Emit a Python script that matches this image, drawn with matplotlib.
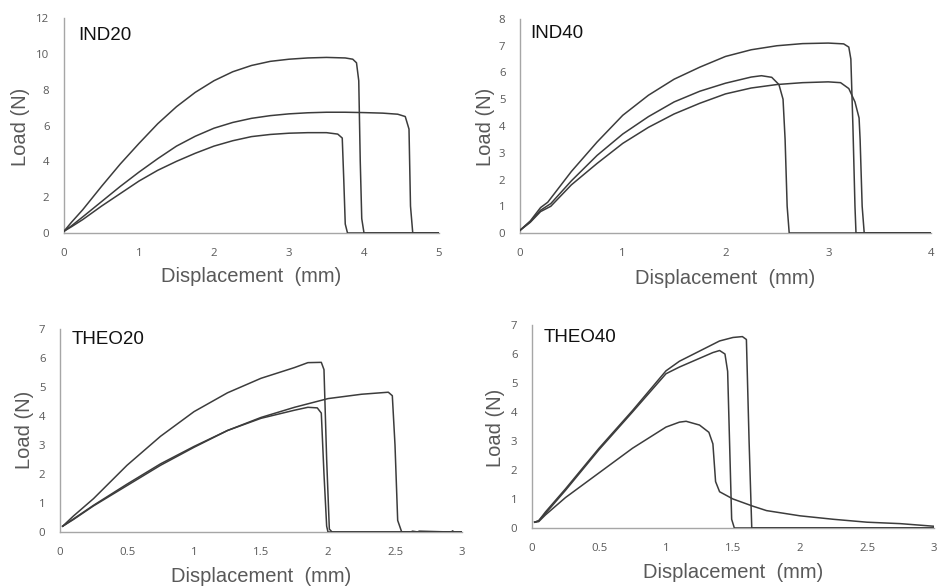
import matplotlib
matplotlib.use("Agg")
import matplotlib.pyplot as plt

# ---------------- data ----------------
# IND20
ind20_a_x = [0.0, 0.1, 0.25, 0.5, 0.75, 1.0, 1.25, 1.5, 1.75, 2.0, 2.25, 2.5, 2.75, 3.0, 3.25, 3.5, 3.75, 3.85, 3.9, 3.93, 3.95, 3.97, 4.0, 5.0]
ind20_a_y = [0.1, 0.6, 1.3, 2.6, 3.85, 5.0, 6.1, 7.05, 7.85, 8.5, 9.0, 9.35, 9.58, 9.7, 9.77, 9.8, 9.77, 9.7, 9.5, 8.5, 4.0, 0.8, 0.0, 0.0]
ind20_b_x = [0.0, 0.1, 0.25, 0.5, 0.75, 1.0, 1.25, 1.5, 1.75, 2.0, 2.25, 2.5, 2.75, 3.0, 3.25, 3.5, 3.75, 4.0, 4.25, 4.45, 4.55, 4.6, 4.62, 4.65, 5.0]
ind20_b_y = [0.1, 0.4, 0.9, 1.75, 2.6, 3.4, 4.15, 4.85, 5.4, 5.85, 6.17, 6.4, 6.55, 6.65, 6.71, 6.74, 6.74, 6.72, 6.69, 6.63, 6.5, 5.8, 1.5, 0.0, 0.0]
ind20_c_x = [0.0, 0.1, 0.25, 0.5, 0.75, 1.0, 1.25, 1.5, 1.75, 2.0, 2.25, 2.5, 2.75, 3.0, 3.25, 3.5, 3.65, 3.71, 3.73, 3.75, 3.78, 5.0]
ind20_c_y = [0.1, 0.35, 0.75, 1.5, 2.2, 2.9, 3.5, 4.0, 4.45, 4.85, 5.15, 5.38, 5.5, 5.57, 5.6, 5.6, 5.52, 5.3, 3.0, 0.5, 0.0, 0.0]

# IND40
ind40_a_x = [0.0, 0.1, 0.2, 0.27, 0.3, 0.5, 0.75, 1.0, 1.25, 1.5, 1.75, 2.0, 2.25, 2.5, 2.75, 3.0, 3.15, 3.2, 3.22, 3.24, 3.26, 3.27, 4.0]
ind40_a_y = [0.1, 0.45, 0.95, 1.15, 1.3, 2.3, 3.4, 4.4, 5.15, 5.75, 6.2, 6.6, 6.85, 7.0, 7.08, 7.1, 7.07, 6.95, 6.5, 4.0, 1.0, 0.0, 0.0]
ind40_b_x = [0.0, 0.1, 0.2, 0.3, 0.5, 0.75, 1.0, 1.25, 1.5, 1.75, 2.0, 2.25, 2.35, 2.45, 2.52, 2.56, 2.58, 2.6, 2.62, 4.0]
ind40_b_y = [0.1, 0.42, 0.85, 1.1, 1.95, 2.9, 3.7, 4.35, 4.9, 5.3, 5.6, 5.83, 5.88, 5.82, 5.55, 5.0, 3.5, 1.0, 0.0, 0.0]
ind40_c_x = [0.0, 0.1, 0.2, 0.3, 0.5, 0.75, 1.0, 1.25, 1.5, 1.75, 2.0, 2.25, 2.5, 2.75, 3.0, 3.12, 3.2, 3.26, 3.3, 3.31, 3.33, 3.35, 4.0]
ind40_c_y = [0.1, 0.4, 0.8, 1.0, 1.8, 2.6, 3.35, 3.95, 4.45, 4.85, 5.2, 5.42, 5.55, 5.62, 5.65, 5.62, 5.4, 4.9, 4.3, 3.5, 1.0, 0.0, 0.0]

# THEO20
theo20_a_x = [0.02, 0.1, 0.25, 0.5, 0.75, 1.0, 1.25, 1.5, 1.75, 1.85, 1.95, 1.97, 1.99, 2.01, 2.03, 3.0]
theo20_a_y = [0.2, 0.55, 1.15, 2.3, 3.3, 4.15, 4.8, 5.3, 5.67, 5.84, 5.85, 5.6, 2.5, 0.1, 0.0, 0.0]
theo20_b_x = [0.02, 0.1, 0.25, 0.5, 0.75, 1.0, 1.25, 1.5, 1.75, 2.0, 2.25, 2.45, 2.48, 2.5, 2.52, 2.55, 2.62, 2.63, 2.67, 2.68, 2.92, 2.93, 2.94, 3.0]
theo20_b_y = [0.2, 0.45, 0.92, 1.65, 2.35, 2.95, 3.5, 3.95, 4.3, 4.6, 4.75, 4.82, 4.7, 3.0, 0.4, 0.0, 0.0, 0.03, 0.0, 0.03, 0.0, 0.04, 0.0, 0.0]
theo20_c_x = [0.02, 0.1, 0.25, 0.5, 0.75, 1.0, 1.25, 1.5, 1.75, 1.85, 1.92, 1.95, 1.97, 1.99, 2.0, 3.0]
theo20_c_y = [0.2, 0.43, 0.9, 1.6, 2.3, 2.92, 3.5, 3.92, 4.2, 4.3, 4.28, 4.1, 2.0, 0.2, 0.0, 0.0]

# THEO40
theo40_a_x = [0.02, 0.05, 0.1, 0.25, 0.5, 0.75, 1.0, 1.1, 1.25, 1.4, 1.5, 1.57, 1.6, 1.62, 1.64, 3.0]
theo40_a_y = [0.2, 0.25, 0.55, 1.35, 2.75, 4.05, 5.42, 5.75, 6.1, 6.45, 6.57, 6.6, 6.5, 3.0, 0.0, 0.0]
theo40_b_x = [0.02, 0.05, 0.1, 0.25, 0.5, 0.75, 1.0, 1.1, 1.25, 1.35, 1.4, 1.44, 1.46, 1.48, 1.49, 1.51, 3.0]
theo40_b_y = [0.2, 0.25, 0.5, 1.3, 2.7, 4.0, 5.32, 5.55, 5.85, 6.05, 6.12, 6.0, 5.4, 2.0, 0.3, 0.0, 0.0]
theo40_c_x = [0.02, 0.05, 0.1, 0.25, 0.5, 0.75, 1.0, 1.1, 1.15, 1.25, 1.32, 1.35, 1.37, 1.4, 1.5, 1.65, 1.75, 2.0, 2.25, 2.5, 2.75, 3.0]
theo40_c_y = [0.2, 0.22, 0.45, 1.05, 1.9, 2.75, 3.48, 3.65, 3.68, 3.55, 3.3, 2.9, 1.6, 1.25, 1.0, 0.75, 0.6, 0.42, 0.3, 0.2, 0.15, 0.06]

panels = [
    dict(name="IND20", curves=[(ind20_a_x, ind20_a_y), (ind20_b_x, ind20_b_y), (ind20_c_x, ind20_c_y)],
         xlim=(0, 5), xticks=[0, 1, 2, 3, 4, 5], xticklabels=["0", "1", "2", "3", "4", "5"],
         ylim=(0, 12), yticks=[0, 2, 4, 6, 8, 10, 12]),
    dict(name="IND40", curves=[(ind40_a_x, ind40_a_y), (ind40_b_x, ind40_b_y), (ind40_c_x, ind40_c_y)],
         xlim=(0, 4), xticks=[0, 1, 2, 3, 4], xticklabels=["0", "1", "2", "3", "4"],
         ylim=(0, 8), yticks=[0, 1, 2, 3, 4, 5, 6, 7, 8]),
    dict(name="THEO20", curves=[(theo20_a_x, theo20_a_y), (theo20_b_x, theo20_b_y), (theo20_c_x, theo20_c_y)],
         xlim=(0, 3), xticks=[0, 0.5, 1, 1.5, 2, 2.5, 3], xticklabels=["0", "0.5", "1", "1.5", "2", "2.5", "3"],
         ylim=(0, 7), yticks=[0, 1, 2, 3, 4, 5, 6, 7]),
    dict(name="THEO40", curves=[(theo40_a_x, theo40_a_y), (theo40_b_x, theo40_b_y), (theo40_c_x, theo40_c_y)],
         xlim=(0, 3), xticks=[0, 0.5, 1, 1.5, 2, 2.5, 3], xticklabels=["0", "0.5", "1", "1.5", "2", "2.5", "3"],
         ylim=(0, 7), yticks=[0, 1, 2, 3, 4, 5, 6, 7]),
]

# ---------------- layout (pixels) ----------------
W, H = 938, 586
boxes = [(64, 439, 18, 233), (520, 931, 19, 233), (60, 462, 329, 532), (532, 934, 325, 528)]
name_pos = [(78, 36), (530, 33), (72, 339), (544, 338)]
ylab_pos = [(20, 127), (485, 127), (25, 430), (495, 428)]
xlab_pos = [(251, 277), (725, 278), (261, 576), (733, 573)]

LINE = "#3c3c3c"
TICK = "#595959"
SPINE = "#a6a6a6"

fig = plt.figure(figsize=(W / 100, H / 100), dpi=100)
for p, (l, r, t, b), npos, ypos, xpos in zip(panels, boxes, name_pos, ylab_pos, xlab_pos):
    ax = fig.add_axes([l / W, 1 - b / H, (r - l) / W, (b - t) / H])
    for cx, cy in p["curves"]:
        ax.plot(cx, cy, color=LINE, lw=1.1, solid_joinstyle="round")
    ax.set_xlim(*p["xlim"])
    ax.set_ylim(*p["ylim"])
    ax.set_xticks(p["xticks"])
    ax.set_xticklabels(p["xticklabels"])
    ax.set_yticks(p["yticks"])
    for s in ["top", "right"]:
        ax.spines[s].set_visible(False)
    for s in ["left", "bottom"]:
        ax.spines[s].set_color(SPINE)
        ax.spines[s].set_linewidth(1.0)
        ax.spines[s].set_zorder(0.5)
    ax.tick_params(length=0, colors=TICK, labelsize=8.2)
    ax.tick_params(axis="x", pad=11)
    ax.tick_params(axis="y", pad=10.5)
    for lab in ax.get_xticklabels() + ax.get_yticklabels():
        lab.set_fontfamily("Open Sans")
    ax.patch.set_alpha(0)
    fig.text(npos[0] / W, 1 - npos[1] / H, p["name"], fontsize=13.5, family="Liberation Sans",
             color="#111111", ha="left", va="center")
    fig.text(ypos[0] / W, 1 - ypos[1] / H, "Load (N)", fontsize=14.5, family="Liberation Sans",
             color=TICK, rotation=90, ha="center", va="center")
    fig.text(xpos[0] / W, 1 - xpos[1] / H, "Displacement  (mm)", fontsize=14.5, family="Liberation Sans",
             color=TICK, ha="center", va="center")

fig.savefig("out.png", dpi=100, facecolor="white")
